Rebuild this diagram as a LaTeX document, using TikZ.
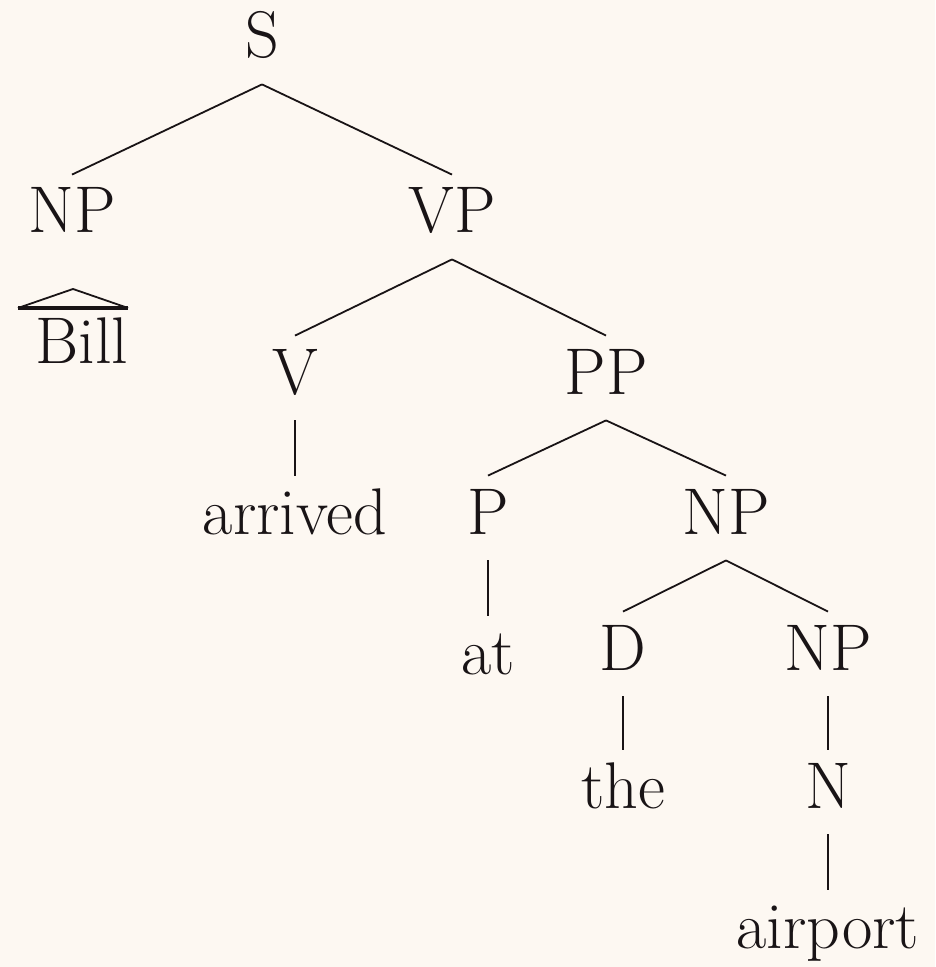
\documentclass[tikz,border=0pt]{standalone}
\usetikzlibrary{positioning}
\definecolor{bgcream}{RGB}{253,248,242}
\definecolor{inkblack}{RGB}{25,20,22}
\tikzset{
  cat/.style={inner xsep=0pt, inner ysep=6pt, anchor=base, text=inkblack,
    font=\fontsize{33}{40}\selectfont, text height=23pt, text depth=7pt},
  branch/.style={draw=inkblack, line width=0.9pt}
}

\begin{document}
\begin{tikzpicture}[x=0.5pt, y=-0.5pt]
\fill[bgcream] (0,0) rectangle (935,967);
\useasboundingbox (0,0) rectangle (935,967);
% categories and words, placed at their baselines
\node[cat] (s)       at (262,58)  {S};
\node[cat] (np)      at (72,233)  {NP};
\node[cat] (vp)      at (452,233) {VP};
\node[cat] (bill)    at (82,364)  {Bill};
\node[cat] (v)       at (295,394) {V};
\node[cat] (pp)      at (606,394) {PP};
\node[cat] (arrived) at (295,534) {arrived};
\node[cat] (p)       at (488,534) {P};
\node[cat] (npb)     at (726,534) {NP};
\node[cat] (at)      at (488,674) {at};
\node[cat] (d)       at (623,670) {D};
\node[cat] (npc)     at (828,670) {NP};
\node[cat] (the)     at (623,808) {the};
\node[cat] (n)       at (828,808) {N};
\node[cat] (airport) at (828,948) {airport};
% branches
\draw[branch] (s.south) -- (np.north);
\draw[branch] (s.south) -- (vp.north);
\draw[branch] (vp.south) -- (v.north);
\draw[branch] (vp.south) -- (pp.north);
\draw[branch] (v.south) -- (arrived.north);
\draw[branch] (pp.south) -- (p.north);
\draw[branch] (pp.south) -- (npb.north);
\draw[branch] (p.south) -- (at.north);
\draw[branch] (npb.south) -- (d.north);
\draw[branch] (npb.south) -- (npc.north);
\draw[branch] (d.south) -- (the.north);
\draw[branch] (npc.south) -- (n.north);
\draw[branch] (n.south) -- (airport.north);
% triangle over Bill
\coordinate (triA) at (73,289);
\coordinate (triL) at (18,308);
\coordinate (triR) at (128,308);
\draw[branch] (triL) -- (triA) -- (triR);
\draw[draw=inkblack, line width=1.6pt] (triL) -- (triR);
\end{tikzpicture}
\end{document}
